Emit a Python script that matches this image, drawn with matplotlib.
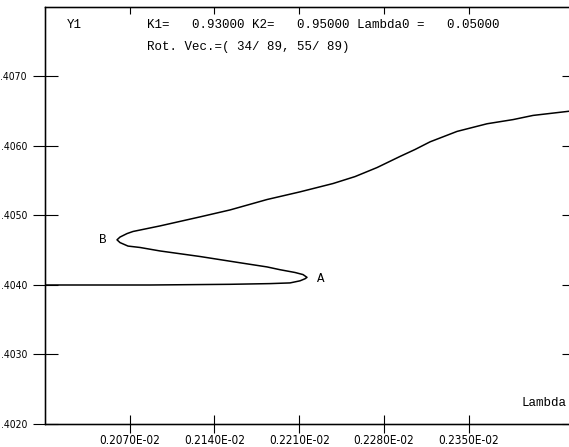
import matplotlib
matplotlib.use("Agg")
import matplotlib.pyplot as plt

# Continuation curve: lower branch -> fold A -> middle -> fold B -> upper
lam = [0.0020000, 0.0020868, 0.0021529, 0.0021859, 0.0022025, 0.0022107, 0.0022149, 0.0022165,
       0.0022132, 0.0022066, 0.0021942, 0.0021835, 0.0021611, 0.0021281, 0.0020950, 0.0020785,
       0.0020686, 0.0020620, 0.0020595,
       0.0020620, 0.0020678, 0.0020727, 0.0020950, 0.0021281, 0.0021529, 0.0021835, 0.0022107,
       0.0022380, 0.0022562, 0.0022744, 0.0022934, 0.0023058, 0.0023182, 0.0023405, 0.0023653,
       0.0023868, 0.0024033, 0.0024330]
y1 = [0.40400, 0.40400, 0.40401, 0.40402, 0.40403, 0.40406, 0.40409, 0.40411,
      0.40415, 0.40418, 0.40422, 0.40426, 0.40432, 0.40441, 0.40449, 0.40454,
      0.40456, 0.40461, 0.40465,
      0.40469, 0.40474, 0.40477, 0.40485, 0.40498, 0.40508, 0.40523, 0.40534,
      0.40546, 0.40556, 0.40569, 0.40585, 0.40595, 0.40606, 0.40621, 0.40632,
      0.40638, 0.40644, 0.40650]

xticks = [0.00207, 0.00214, 0.00221, 0.00228, 0.00235]
yticks = [0.4020, 0.4030, 0.4040, 0.4050, 0.4060, 0.4070]

xlim = (0.0020, 0.002433)
ylim = (0.4020, 0.4080)

mono = ["Liberation Mono", "DejaVu Sans Mono"]
narrow = ["Liberation Sans Narrow", "DejaVu Sans Condensed", "DejaVu Sans"]

fig = plt.figure(figsize=(5.69, 4.47), dpi=100)
ax = fig.add_axes([45 / 569, 23 / 447, 524 / 569, 417 / 447])

ax.plot(lam, y1, color="black", lw=1.1)

ax.set_xlim(*xlim)
ax.set_ylim(*ylim)

ax.spines["right"].set_visible(False)
for s in ["left", "bottom", "top"]:
    ax.spines[s].set_linewidth(1.0)

ax.set_xticks(xticks)
ax.set_xticklabels([f"{v * 100:.4f}E-02" for v in xticks], fontfamily=narrow,
                   fontstretch="condensed", fontsize=8.5)
ax.set_yticks(yticks)
ax.set_yticklabels([f"{v:.4f}"[1:] for v in yticks], fontfamily=narrow,
                   fontstretch="condensed", fontsize=7.5)

ax.tick_params(axis="x", direction="inout", length=13, width=0.8, pad=1,
               top=False, bottom=True)
ax.tick_params(axis="y", direction="inout", length=18, width=0.8, pad=4,
               left=True, right=False)

# short inward ticks on the top and right edges
axt = ax.twiny()
axt.set_xlim(*xlim)
axt.set_xticks(xticks)
axt.tick_params(axis="x", direction="in", length=5, width=0.8, labeltop=False)
axr = ax.twinx()
axr.set_ylim(*ylim)
axr.set_yticks(yticks)
axr.tick_params(axis="y", direction="in", length=5, width=0.8, labelright=False)
for a in (axt, axr):
    a.spines["right"].set_visible(False)

fs = 9
ax.text(0.042, 0.957, "Y1", transform=ax.transAxes, fontfamily=mono, fontsize=fs,
        va="center", ha="left")
ax.text(0.195, 0.957, "K1=   0.93000 K2=   0.95000 Lambda0 =   0.05000",
        transform=ax.transAxes, fontfamily=mono, fontsize=fs, va="center", ha="left")
ax.text(0.195, 0.904, "Rot. Vec.=( 34/ 89, 55/ 89)", transform=ax.transAxes,
        fontfamily=mono, fontsize=fs, va="center", ha="left")
ax.text(0.910, 0.050, "Lambda", transform=ax.transAxes, fontfamily=mono, fontsize=fs,
        va="center", ha="left")

ax.text(0.0022248, 0.40409, "A", fontfamily=mono, fontsize=fs, va="center", ha="left")
ax.text(0.0020512, 0.40465, "B", fontfamily=mono, fontsize=fs, va="center", ha="right")

fig.savefig("out.png", dpi=100)
